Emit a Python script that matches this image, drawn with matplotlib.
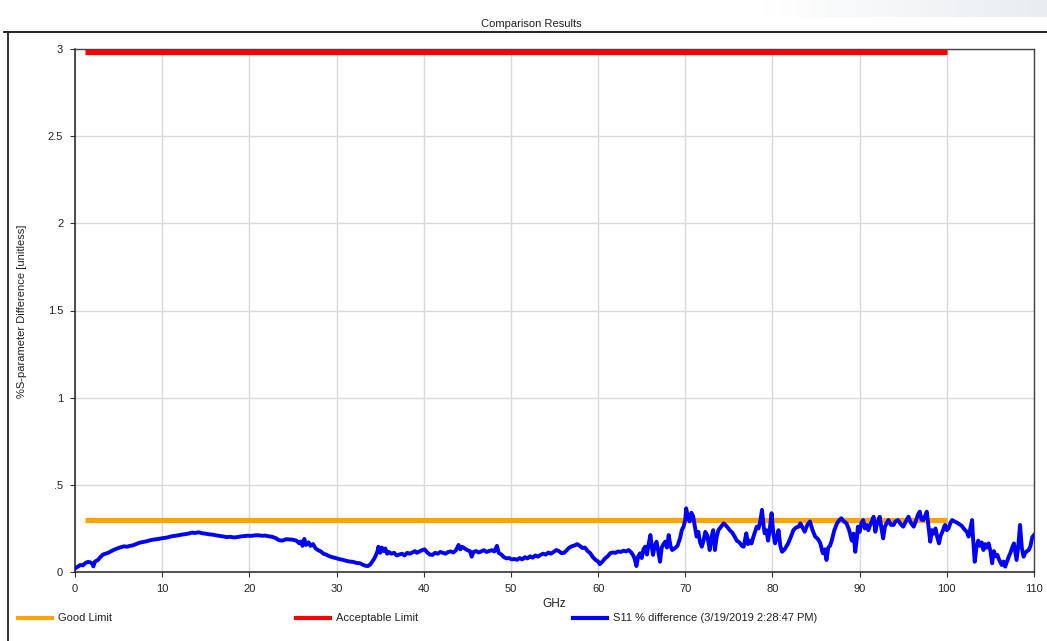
import numpy as np
import matplotlib
matplotlib.use("Agg")
import matplotlib.pyplot as plt
from matplotlib.lines import Line2D
from matplotlib.colors import LinearSegmentedColormap

plt.rcParams['font.family'] = ['Liberation Sans', 'DejaVu Sans']

# ---- data (rows of ten, frequency rows match value rows) ----
freq_ghz = [
    0.0, 0.3, 0.6, 0.9, 1.2, 1.5, 1.8, 2.0, 2.1, 2.3,
    2.6, 2.9, 3.2, 3.5, 3.8, 4.1, 4.4, 4.7, 5.0, 5.3,
    5.6, 6.0, 6.3, 6.6, 7.0, 7.4, 7.8, 8.2, 8.6, 9.0,
    9.4, 9.8, 10.2, 10.6, 11.0, 11.4, 11.8, 12.2, 12.6, 13.0,
    13.4, 13.8, 14.2, 14.6, 15.0, 15.4, 15.8, 16.2, 16.6, 17.0,
    17.4, 17.8, 18.2, 18.6, 19.0, 19.4, 19.8, 20.2, 20.6, 21.0,
    21.4, 21.8, 22.2, 22.6, 23.0, 23.4, 23.8, 24.2, 24.6, 25.0,
    25.4, 25.7, 25.9, 26.1, 26.3, 26.5, 26.8, 27.0, 27.3, 27.6,
    27.9, 28.2, 28.5, 28.8, 29.1, 29.5, 29.9, 30.3, 30.7, 31.1,
    31.5, 31.9, 32.3, 32.7, 33.0, 33.3, 33.6, 33.9, 34.1, 34.3,
    34.5, 34.7, 34.8, 35.0, 35.2, 35.4, 35.6, 35.8, 36.0, 36.3,
    36.6, 36.9, 37.2, 37.5, 37.8, 38.1, 38.4, 38.7, 39.0, 39.2,
    39.5, 39.8, 40.1, 40.4, 40.7, 41.0, 41.3, 41.6, 41.9, 42.2,
    42.5, 42.8, 43.1, 43.4, 43.7, 44.0, 44.2, 44.4, 44.7, 45.0,
    45.3, 45.5, 45.7, 46.0, 46.3, 46.6, 46.9, 47.2, 47.5, 47.8,
    48.1, 48.4, 48.6, 48.9, 49.2, 49.5, 49.8, 50.1, 50.4, 50.7,
    51.0, 51.3, 51.6, 51.9, 52.2, 52.5, 52.8, 53.1, 53.4, 53.7,
    54.0, 54.3, 54.6, 54.9, 55.2, 55.5, 55.8, 56.1, 56.4, 56.7,
    57.0, 57.3, 57.6, 57.9, 58.2, 58.5, 58.8, 59.1, 59.4, 59.7,
    60.0, 60.2, 60.5, 60.8, 61.1, 61.4, 61.7, 62.0, 62.3, 62.6,
    62.9, 63.2, 63.5, 63.8, 64.0, 64.2, 64.4, 64.6, 64.8, 65.0,
    65.2, 65.4, 65.6, 65.8, 66.0, 66.2, 66.3, 66.5, 66.7, 66.9,
    67.1, 67.3, 67.5, 67.7, 67.9, 68.1, 68.3, 68.5, 68.8, 69.1,
    69.4, 69.6, 69.8, 70.0, 70.1, 70.3, 70.5, 70.7, 70.9, 71.1,
    71.3, 71.5, 71.7, 71.9, 72.1, 72.3, 72.5, 72.7, 72.8, 73.0,
    73.2, 73.4, 73.6, 73.8, 74.1, 74.4, 74.7, 75.1, 75.4, 75.7,
    75.9, 76.2, 76.5, 76.7, 77.0, 77.2, 77.4, 77.6, 77.8, 78.0,
    78.2, 78.4, 78.6, 78.8, 79.0, 79.1, 79.3, 79.5, 79.7, 79.9,
    80.1, 80.3, 80.5, 80.7, 80.9, 81.1, 81.4, 81.8, 82.1, 82.4,
    82.7, 83.0, 83.2, 83.5, 83.7, 84.0, 84.3, 84.6, 84.9, 85.2,
    85.5, 85.7, 85.8, 86.0, 86.2, 86.4, 86.6, 86.8, 87.1, 87.4,
    87.7, 87.9, 88.2, 88.5, 88.8, 89.1, 89.3, 89.5, 89.7, 89.8,
    90.0, 90.2, 90.4, 90.6, 90.8, 91.0, 91.2, 91.4, 91.6, 91.8,
    92.0, 92.3, 92.5, 92.7, 92.9, 93.1, 93.3, 93.6, 93.9, 94.1,
    94.4, 94.7, 95.0, 95.3, 95.6, 95.9, 96.2, 96.5, 96.7, 96.9,
    97.1, 97.3, 97.5, 97.7, 97.9, 98.1, 98.3, 98.5, 98.7, 98.9,
    99.1, 99.3, 99.5, 99.7, 99.8, 100.0, 100.2, 100.4, 100.6, 100.9,
    101.3, 101.7, 102.1, 102.3, 102.5, 102.7, 102.9, 103.0, 103.2, 103.4,
    103.6, 103.8, 104.0, 104.2, 104.4, 104.6, 104.8, 105.0, 105.2, 105.4,
    105.6, 105.8, 106.0, 106.3, 106.5, 106.7, 106.9, 107.1, 107.3, 107.5,
    107.7, 107.9, 108.0, 108.2, 108.4, 108.6, 108.8, 109.0, 109.2, 109.4,
    109.6, 109.8, 110.0,
]

s11_pct_diff = [
    0.021, 0.030, 0.040, 0.038, 0.052, 0.058, 0.055, 0.045, 0.032, 0.060,
    0.068, 0.085, 0.100, 0.105, 0.110, 0.118, 0.126, 0.132, 0.138, 0.143,
    0.147, 0.145, 0.150, 0.152, 0.160, 0.168, 0.172, 0.176, 0.182, 0.186,
    0.188, 0.192, 0.195, 0.198, 0.204, 0.207, 0.210, 0.214, 0.217, 0.220,
    0.226, 0.224, 0.228, 0.222, 0.220, 0.216, 0.214, 0.210, 0.207, 0.204,
    0.200, 0.202, 0.198, 0.200, 0.204, 0.206, 0.208, 0.207, 0.210, 0.211,
    0.208, 0.209, 0.205, 0.202, 0.195, 0.182, 0.180, 0.188, 0.187, 0.185,
    0.180, 0.165, 0.175, 0.150, 0.190, 0.155, 0.170, 0.150, 0.160, 0.135,
    0.125, 0.118, 0.105, 0.100, 0.092, 0.085, 0.080, 0.074, 0.070, 0.064,
    0.060, 0.058, 0.052, 0.050, 0.042, 0.036, 0.034, 0.045, 0.060, 0.075,
    0.095, 0.120, 0.145, 0.110, 0.140, 0.120, 0.135, 0.105, 0.115, 0.105,
    0.110, 0.095, 0.100, 0.105, 0.095, 0.110, 0.105, 0.112, 0.120, 0.110,
    0.118, 0.125, 0.130, 0.112, 0.100, 0.098, 0.110, 0.105, 0.115, 0.110,
    0.105, 0.115, 0.118, 0.112, 0.125, 0.155, 0.130, 0.145, 0.135, 0.125,
    0.120, 0.088, 0.115, 0.120, 0.112, 0.118, 0.125, 0.115, 0.120, 0.125,
    0.118, 0.150, 0.110, 0.100, 0.085, 0.078, 0.080, 0.072, 0.075, 0.070,
    0.080, 0.072, 0.085, 0.078, 0.090, 0.082, 0.095, 0.088, 0.098, 0.105,
    0.100, 0.112, 0.105, 0.115, 0.126, 0.120, 0.108, 0.110, 0.125, 0.140,
    0.148, 0.152, 0.160, 0.150, 0.138, 0.140, 0.120, 0.108, 0.085, 0.070,
    0.060, 0.045, 0.060, 0.078, 0.090, 0.108, 0.112, 0.110, 0.118, 0.115,
    0.122, 0.118, 0.126, 0.112, 0.098, 0.075, 0.034, 0.090, 0.107, 0.080,
    0.130, 0.145, 0.100, 0.160, 0.212, 0.130, 0.098, 0.150, 0.174, 0.120,
    0.059, 0.140, 0.160, 0.174, 0.140, 0.212, 0.150, 0.126, 0.136, 0.150,
    0.193, 0.240, 0.260, 0.300, 0.365, 0.320, 0.290, 0.340, 0.320, 0.260,
    0.203, 0.230, 0.170, 0.145, 0.180, 0.230, 0.212, 0.160, 0.126, 0.200,
    0.240, 0.126, 0.200, 0.240, 0.260, 0.279, 0.265, 0.240, 0.225, 0.200,
    0.180, 0.170, 0.150, 0.145, 0.222, 0.160, 0.180, 0.164, 0.200, 0.230,
    0.260, 0.250, 0.290, 0.356, 0.260, 0.222, 0.240, 0.180, 0.250, 0.337,
    0.220, 0.164, 0.200, 0.240, 0.150, 0.116, 0.130, 0.164, 0.200, 0.240,
    0.255, 0.260, 0.279, 0.250, 0.231, 0.270, 0.290, 0.240, 0.203, 0.190,
    0.164, 0.120, 0.107, 0.130, 0.069, 0.140, 0.150, 0.180, 0.240, 0.279,
    0.300, 0.308, 0.290, 0.279, 0.240, 0.180, 0.220, 0.116, 0.200, 0.260,
    0.230, 0.280, 0.298, 0.250, 0.270, 0.240, 0.270, 0.290, 0.317, 0.231,
    0.280, 0.317, 0.250, 0.193, 0.260, 0.280, 0.298, 0.270, 0.270, 0.290,
    0.298, 0.275, 0.260, 0.290, 0.317, 0.280, 0.260, 0.300, 0.330, 0.346,
    0.300, 0.298, 0.320, 0.346, 0.260, 0.174, 0.240, 0.220, 0.250, 0.200,
    0.164, 0.210, 0.231, 0.260, 0.270, 0.240, 0.250, 0.280, 0.298, 0.290,
    0.279, 0.265, 0.240, 0.230, 0.203, 0.250, 0.298, 0.200, 0.059, 0.140,
    0.180, 0.150, 0.170, 0.126, 0.160, 0.140, 0.164, 0.120, 0.050, 0.120,
    0.090, 0.098, 0.070, 0.040, 0.060, 0.031, 0.060, 0.088, 0.110, 0.140,
    0.164, 0.100, 0.069, 0.150, 0.270, 0.140, 0.088, 0.110, 0.120, 0.126,
    0.150, 0.200, 0.212,
]

limit_freq = [1.2, 100.0]
good_limit = [0.3, 0.3]
acceptable_limit = [2.985, 2.985]

x_ticks = [0, 10, 20, 30, 40, 50, 60, 70, 80, 90, 100, 110]
y_ticks = [0, 0.5, 1, 1.5, 2, 2.5, 3]
y_tick_labels = ["0", ".5", "1", "1.5", "2", "2.5", "3"]

ORANGE = "#FFA500"
RED = "#FF0000"
BLUE = "#0000FF"

W, H = 1047, 641
fig = plt.figure(figsize=(W / 100, H / 100), dpi=100)
fig.patch.set_facecolor("white")

# faint shading band along the top-right corner
band = fig.add_axes([0, 1 - 17 / H, 1, 17 / H])
grad = np.linspace(0, 1, 400)
grad = np.clip((grad - 0.73) / 0.27, 0, 1)[None, :]
band.imshow(grad, aspect="auto",
            cmap=LinearSegmentedColormap.from_list("shade", ["#ffffff", "#e9edf0"]),
            extent=[0, 1, 0, 1])
band.set_axis_off()

# outer panel frame
fig.add_artist(Line2D([4 / W, 1], [1 - 32 / H, 1 - 32 / H], color="#111111", lw=1.3,
                      transform=fig.transFigure))
fig.add_artist(Line2D([8 / W, 8 / W], [0, 1 - 32 / H], color="#222222", lw=1.3,
                      transform=fig.transFigure))

ax = fig.add_axes([75 / W, (H - 572) / H, (1034 - 75) / W, (572 - 49) / H])
ax.set_xlim(0, 110)
ax.set_ylim(0, 3)

ax.plot(limit_freq, good_limit, color=ORANGE, lw=3.8, solid_capstyle="butt", zorder=3)
ax.plot(limit_freq, acceptable_limit, color=RED, lw=3.8, solid_capstyle="butt", zorder=3)
ax.plot(freq_ghz, s11_pct_diff, color=BLUE, lw=2.8, zorder=4)

ax.set_xticks(x_ticks)
ax.set_yticks(y_ticks)
ax.set_yticklabels(y_tick_labels)
ax.grid(True, color="#d9d9d9", lw=1.0, zorder=0)
ax.set_axisbelow(True)
ax.tick_params(axis="both", direction="out", length=3.5, width=0.8, color="#333333",
               labelsize=8, labelcolor="#222222", pad=5)
for side in ["left", "bottom"]:
    ax.spines[side].set_color("#222222")
    ax.spines[side].set_linewidth(1.1)
for side in ["top", "right"]:
    ax.spines[side].set_color("#444444")
    ax.spines[side].set_linewidth(1.0)

ax.set_xlabel("GHz", fontsize=8.5, color="#222222", labelpad=3)
fig.text(22 / W, 1 - 311 / H, "%S-parameter Difference [unitless]", rotation=90,
         ha="center", va="center", fontsize=8, color="#222222")
fig.text(531 / W, 1 - 24 / H, "Comparison Results", ha="center", va="center",
         fontsize=8, color="#222222")

# legend row along the bottom
legend_items = [
    (18, ORANGE, "Good Limit"),
    (296, RED, "Acceptable Limit"),
    (573, BLUE, "S11 % difference (3/19/2019 2:28:47 PM)"),
]
ly = 1 - 618 / H
for x0, col, label in legend_items:
    fig.add_artist(Line2D([x0 / W, (x0 + 34) / W], [ly, ly], color=col, lw=3.0,
                          transform=fig.transFigure))
    fig.text((x0 + 40) / W, ly, label, ha="left", va="center", fontsize=8, color="#222222")

fig.savefig("out.png", dpi=100)
